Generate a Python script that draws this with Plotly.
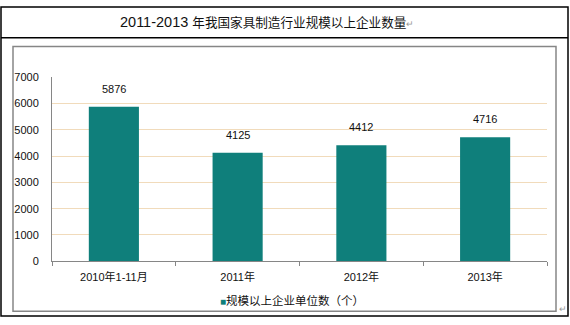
import plotly.graph_objects as go

# Data
categories = ["2010年1-11月", "2011年", "2012年", "2013年"]
enterprise_counts = [5876, 4125, 4412, 4716]
y_ticks = [0, 1000, 2000, 3000, 4000, 5000, 6000, 7000]
series_name = "规模以上企业单位数（个）"

W, H = 570, 325
BAR_COLOR = "#0F7F7B"
GRID_COLOR = "#F1DBBB"
AXIS_COLOR = "#868686"
FONT = "Liberation Sans, Arial, Noto Sans CJK SC, sans-serif"


def px_x(x):
    return x / W


def px_y(y):
    return 1 - y / H


fig = go.Figure()
fig.add_trace(go.Bar(
    x=categories,
    y=enterprise_counts,
    marker=dict(color=BAR_COLOR, line=dict(width=0)),
    name=series_name,
    showlegend=False,
))

# value labels above each bar
annotations = []
for c, v in zip(categories, enterprise_counts):
    annotations.append(dict(
        x=c, y=v, xref="x", yref="y", text=str(v), showarrow=False,
        yshift=18, yanchor="middle", font=dict(size=11, color="#111111", family=FONT),
    ))

# title line
annotations.append(dict(
    x=px_x(118), y=px_y(17), xref="paper", yref="paper", xanchor="left", yanchor="middle",
    showarrow=False,
    text=("<span style='font-size:14.5px'>2011-2013 </span>"
          "<span style='font-size:12.6px'>年我国家具制造行业规模以上企业数量</span>"
          "<span style='font-size:9px;color:#999999'>↵</span>"),
    font=dict(size=12.6, color="#111111", family=FONT),
))

# legend entry
annotations.append(dict(
    x=px_x(218), y=px_y(306), xref="paper", yref="paper", xanchor="left", yanchor="middle",
    showarrow=False,
    text=f"<span style='color:{BAR_COLOR};font-size:10px'>■</span>{series_name}",
    font=dict(size=11.5, color="#111111", family=FONT),
))

# paragraph mark at the bottom right corner
annotations.append(dict(
    x=px_x(563), y=px_y(315), xref="paper", yref="paper", xanchor="center", yanchor="middle",
    showarrow=False, text="↵", font=dict(size=9, color="#999999", family=FONT),
))

shapes = [
    # outer table frame
    dict(type="rect", xref="paper", yref="paper", x0=px_x(1), x1=px_x(568), y0=px_y(322), y1=px_y(1),
         line=dict(color="#000000", width=1.5)),
    # title divider
    dict(type="line", xref="paper", yref="paper", x0=px_x(1), x1=px_x(568), y0=px_y(33), y1=px_y(33),
         line=dict(color="#000000", width=1.5)),
    # chart area border
    dict(type="rect", xref="paper", yref="paper", x0=px_x(13), x1=px_x(556), y0=px_y(317), y1=px_y(42),
         line=dict(color=AXIS_COLOR, width=1.5)),
]

fig.update_layout(
    width=W, height=H,
    margin=dict(l=0, r=0, t=0, b=0),
    paper_bgcolor="white", plot_bgcolor="white",
    bargap=0.595,
    font=dict(family=FONT, size=11, color="#111111"),
    annotations=annotations,
    shapes=shapes,
    xaxis=dict(
        domain=[px_x(52), px_x(547)],
        showline=True, linecolor=AXIS_COLOR, linewidth=1,
        ticks="outside", tickson="boundaries", ticklen=4, tickcolor=AXIS_COLOR,
        showgrid=False, tickfont=dict(size=11, color="#111111"),
        ticklabelstandoff=6,
    ),
    yaxis=dict(
        domain=[px_y(265), px_y(74)],
        range=[0, 7000], tickvals=y_ticks,
        showline=True, linecolor=AXIS_COLOR, linewidth=1,
        ticks="",
        showgrid=True, gridcolor=GRID_COLOR, gridwidth=1,
        zeroline=False, tickfont=dict(size=11, color="#111111"),
        ticklabelstandoff=10,
    ),
)

fig.write_html("out.html")
